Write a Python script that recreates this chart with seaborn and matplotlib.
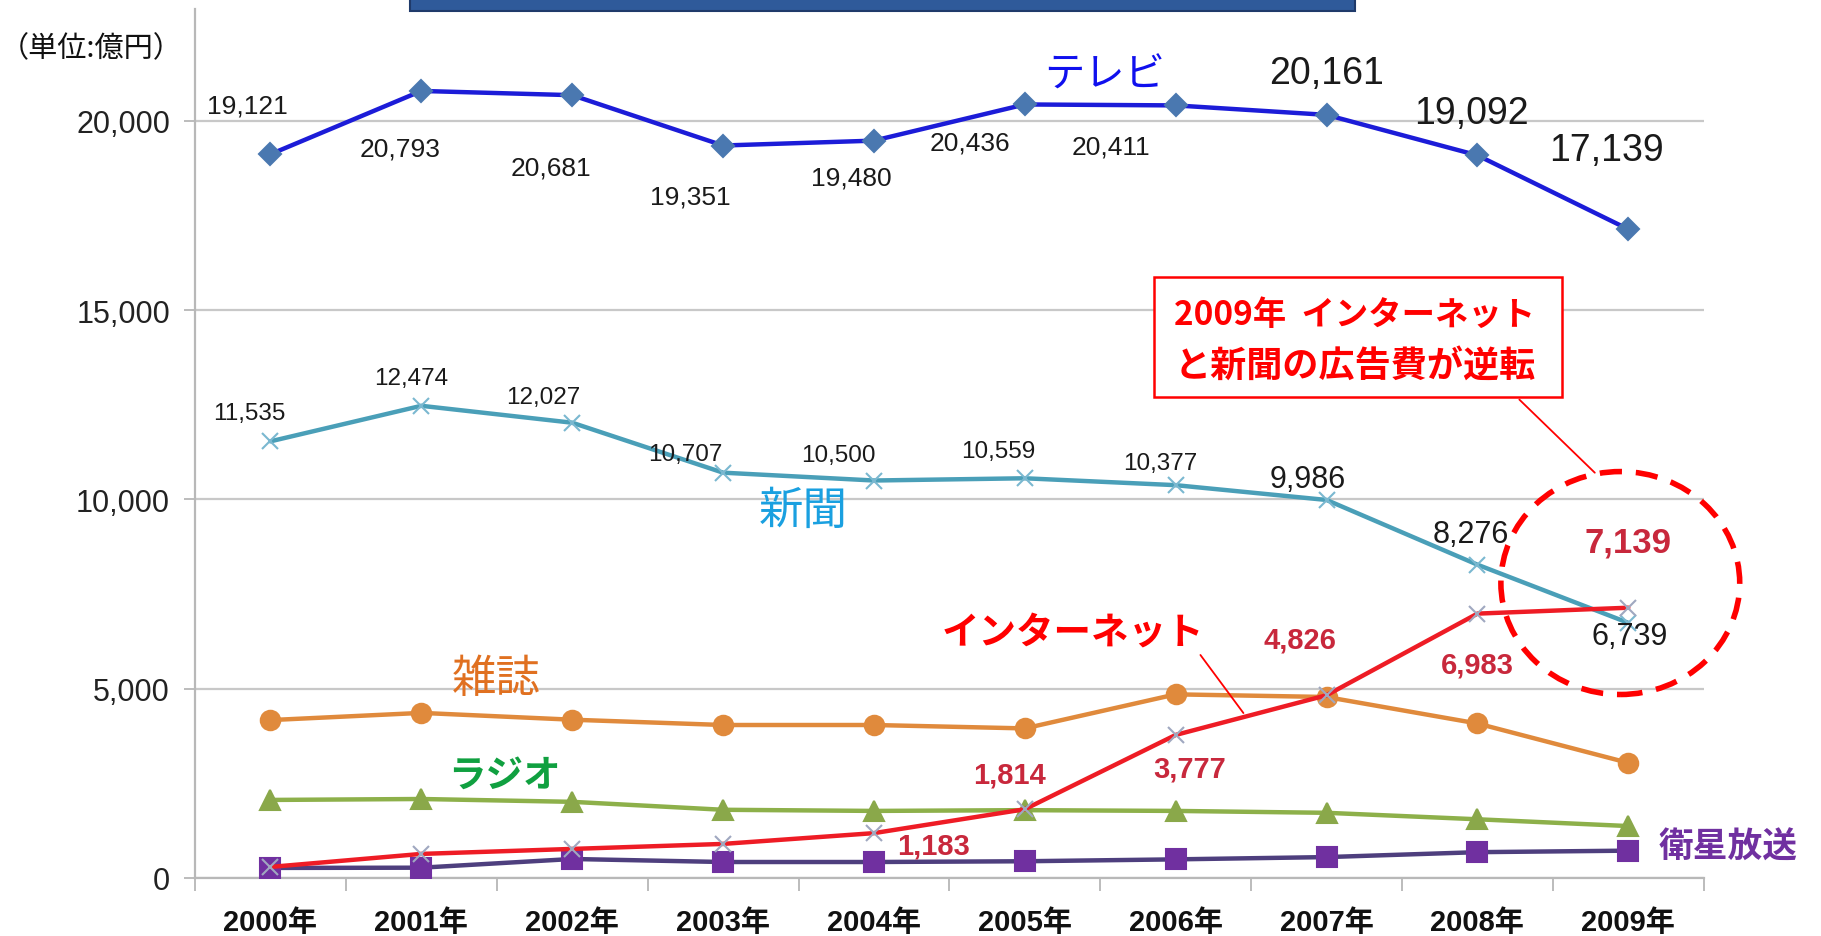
import matplotlib
matplotlib.use("Agg")
import matplotlib.pyplot as plt
import matplotlib.font_manager as fm
from matplotlib.patches import Rectangle, Ellipse
import seaborn as sns
import pandas as pd
import numpy as np

# ---------------- data ----------------
years = ["2000年", "2001年", "2002年", "2003年", "2004年",
         "2005年", "2006年", "2007年", "2008年", "2009年"]
tv = [19121, 20793, 20681, 19351, 19480, 20436, 20411, 20161, 19092, 17139]
newspaper = [11535, 12474, 12027, 10707, 10500, 10559, 10377, 9986, 8276, 6739]
magazine = [4170, 4360, 4180, 4040, 4040, 3950, 4850, 4780, 4080, 3040]
radio = [2060, 2085, 2010, 1800, 1770, 1790, 1770, 1720, 1549, 1370]
satellite = [264, 270, 500, 420, 420, 440, 490, 550, 680, 720]
internet = [290, 634, 766, 898, 1183, 1814, 3777, 4826, 6983, 7139]

tv_labels = ["19,121", "20,793", "20,681", "19,351", "19,480",
             "20,436", "20,411", "20,161", "19,092", "17,139"]
np_labels = ["11,535", "12,474", "12,027", "10,707", "10,500",
             "10,559", "10,377", "9,986", "8,276", "6,739"]
net_labels = {4: "1,183", 5: "1,814", 6: "3,777", 7: "4,826", 8: "6,983", 9: "7,139"}

series_names = ["テレビ", "新聞", "雑誌", "ラジオ", "インターネット", "衛星放送"]

# ---------------- fonts ----------------
sns.set_style("white")
avail = {f.name for f in fm.fontManager.ttflist}
NUM = "Liberation Sans" if "Liberation Sans" in avail else "DejaVu Sans"
CJK = "Noto Sans CJK JP"
plt.rcParams["font.family"] = [NUM, CJK, "DejaVu Sans"]
numfam = [NUM, CJK]
cjkfam = [CJK, NUM]

# ---------------- frame ----------------
rows = []
for name, vals in zip(series_names, [tv, newspaper, magazine, radio, internet, satellite]):
    for i, v in enumerate(vals):
        rows.append({"media": name, "idx": i, "value": v})
df = pd.DataFrame(rows)

fig = plt.figure(figsize=(18.21, 9.37), dpi=100)
ax = fig.add_axes([0.1071, 0.062, 0.8285, 0.927])

styles = {
    "衛星放送": dict(color="#4e3f7e", marker="s", mfc="#7030a0", mec="#7030a0", ms=14),
    "ラジオ": dict(color="#8db04a", marker="^", mfc="#8aa84a", mec="#8aa84a", ms=14),
    "雑誌": dict(color="#e08a3c", marker="o", mfc="#e08a3c", mec="#e08a3c", ms=14),
    "新聞": dict(color="#4a9fb8", marker="x", mfc="#7ab8d0", mec="#7ab8d0", ms=12),
    "インターネット": dict(color="#ee1c25", marker="x", mfc="#a0a8c0", mec="#a0a8c0", ms=11),
    "テレビ": dict(color="#1c1cd8", marker="D", mfc="#4a78b0", mec="#4a78b0", ms=11),
}
order = ["衛星放送", "ラジオ", "雑誌", "新聞", "インターネット", "テレビ"]
for name in order:
    st = styles[name]
    sub = df[df["media"] == name]
    sns.lineplot(data=sub, x="idx", y="value", ax=ax, color=st["color"],
                 linewidth=3.2, marker=st["marker"], markersize=st["ms"],
                 markerfacecolor=st["mfc"], markeredgecolor=st["mec"],
                 markeredgewidth=1.5, legend=False, zorder=3)

ax.set_xlim(-0.5, 9.5)
ax.set_ylim(0, 22950)
ax.set_xlabel("")
ax.set_ylabel("")

ax.set_yticks([0, 5000, 10000, 15000, 20000])
ax.set_yticklabels(["0", "5,000", "10,000", "15,000", "20,000"])
ax.yaxis.grid(True, color="#c8c8c8", linewidth=1.6)
ax.set_axisbelow(True)
ax.tick_params(axis="y", length=8, width=1.2, color="#b0b0b0", pad=10,
               labelsize=22, labelcolor="#222222", left=True)
for t in ax.get_yticklabels():
    t.set_family(numfam)

ax.set_xticks(range(len(years)))
ax.set_xticklabels(years)
ax.set_xticks(np.arange(-0.5, 10, 1.0), minor=True)
ax.tick_params(axis="x", which="major", length=0, pad=22, labelsize=21)
ax.tick_params(axis="x", which="minor", length=9, width=1.2, color="#b0b0b0",
               bottom=True)
for t in ax.get_xticklabels():
    t.set_family(numfam)
    t.set_fontweight("bold")
    t.set_color("#111111")

for s in ["top", "right"]:
    ax.spines[s].set_visible(False)
ax.spines["left"].set_color("#b8b8b8")
ax.spines["bottom"].set_color("#b8b8b8")
ax.spines["left"].set_linewidth(1.6)
ax.spines["bottom"].set_linewidth(1.6)

# ---------------- data labels ----------------
tv_off = [(-23, 49), (-21, -58), (-21, -72), (-33, -51), (-23, -37),
          (-55, -38), (-65, -41), (0, 42), (-6, 42), (-22, 79)]
for i, (lab, (dx, dy)) in enumerate(zip(tv_labels, tv_off)):
    big = i >= 7
    ax.annotate(lab, (i, tv[i]), xytext=(dx, dy), textcoords="offset pixels",
                ha="center", va="center", fontsize=27 if big else 19,
                family=numfam, color="#1a1a1a", zorder=5)

np_off = [(-21, 28), (-10, 28), (-29, 26), (-38, 19), (-36, 26),
          (-27, 27), (-15, 22), (-19, 21), (-7, 31), (1, -13)]
for i, (lab, (dx, dy)) in enumerate(zip(np_labels, np_off)):
    big = i >= 7
    ax.annotate(lab, (i, newspaper[i]), xytext=(dx, dy), textcoords="offset pixels",
                ha="center", va="center", fontsize=22 if big else 17.5,
                family=numfam, color="#1a1a1a", zorder=5)

net_off = {4: (60, -12), 5: (-15, 35), 6: (14, -34), 7: (-27, 56), 8: (0, -51), 9: (0, 66)}
for i, lab in net_labels.items():
    dx, dy = net_off[i]
    ax.annotate(lab, (i, internet[i]), xytext=(dx, dy), textcoords="offset pixels",
                ha="center", va="center", fontsize=25 if i == 9 else 21,
                family=numfam, fontweight="bold", color="#c8283c", zorder=5)

# ---------------- series name labels ----------------
ax.text(5.53, 21227, "テレビ", fontsize=29, color="#1010ee", family=cjkfam,
        ha="center", va="center")
ax.text(3.53, 9724, "新聞", fontsize=32, color="#1aa0e0", family=cjkfam,
        ha="center", va="center")
ax.text(1.50, 5276, "雑誌", fontsize=32, color="#e07020", family=cjkfam,
        ha="center", va="center")
ax.text(1.55, 2730, "ラジオ", fontsize=27, color="#10a040", family=cjkfam,
        fontweight="bold", ha="center", va="center")
ax.text(5.32, 6503, "インターネット", fontsize=27, color="#ff0000", family=cjkfam,
        fontweight="bold", ha="center", va="center")
ax.text(9.66, 828, "衛星放送", fontsize=25, color="#7030a0", family=cjkfam,
        fontweight="bold", ha="center", va="center", clip_on=False)
ax.plot([6.164, 6.449], [5890, 4356], color="#ff0000", linewidth=1.3, zorder=4)

# ---------------- callout box ----------------
ax.add_patch(Rectangle((5.857, 12700), 2.706, 3190, facecolor="white",
                       edgecolor="#ff0000", linewidth=1.8, zorder=6))
ax.text(5.99, 14877, "2009年  インターネット", fontsize=24, color="#ff0000",
        family=cjkfam, fontweight="bold", ha="left", va="center", zorder=7)
ax.text(5.99, 13558, "と新聞の広告費が逆転", fontsize=26, color="#ff0000",
        family=cjkfam, fontweight="bold", ha="left", va="center", zorder=7)
ax.plot([8.278, 8.778], [12638, 10706], color="#ff0000", linewidth=1.3, zorder=6)
ax.add_patch(Ellipse((8.947, 7791), 1.583, 5890, facecolor="none",
                     edgecolor="#ff0000", linewidth=4, linestyle=(0, (4, 2.5)),
                     zorder=6, clip_on=False))

# ---------------- unit + title bar ----------------
fig.text(0.0, 0.947, "（単位:億円）", fontsize=21, family=cjkfam,
         color="#111111", ha="left", va="center")
fig.patches.append(Rectangle((0.225, 0.987), 0.519, 0.02, transform=fig.transFigure,
                             facecolor="#2f5a9a", edgecolor="#1f3a6a", linewidth=1.5))

fig.savefig("out.png", dpi=100, facecolor="white")
